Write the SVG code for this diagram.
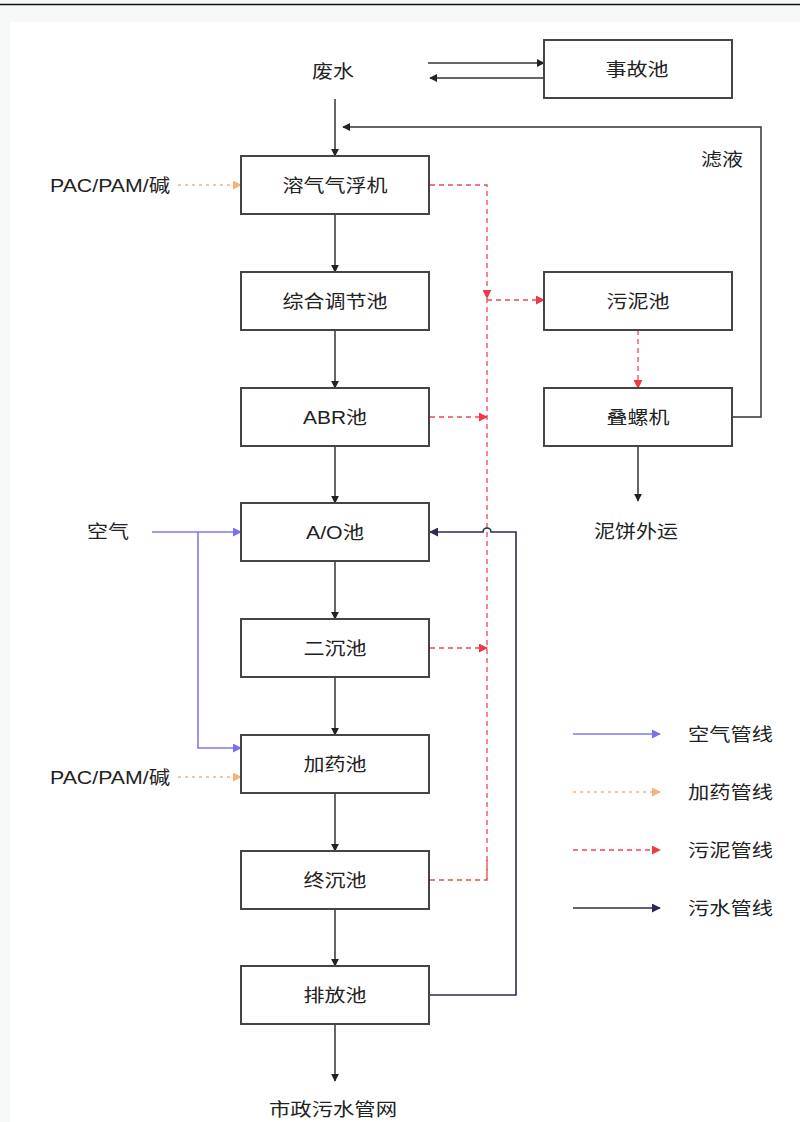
<svg xmlns="http://www.w3.org/2000/svg" width="800" height="1122" viewBox="0 0 800 1122">
<defs>
<style>
.box{fill:#fff;stroke:#444;stroke-width:2}
.t{font-family:"Liberation Sans","Noto Sans CJK SC",sans-serif;font-size:18px;fill:#222;text-anchor:middle}
.tl{font-family:"Liberation Sans","Noto Sans CJK SC",sans-serif;font-size:18px;fill:#222;text-anchor:start}
.main{fill:none;stroke:#333;stroke-width:1.5}
.air{fill:none;stroke:#8277ee;stroke-width:1.6}
.dose{fill:none;stroke:#f2b37e;stroke-width:1.6;stroke-dasharray:3 4}
.sludge{fill:none;stroke:#f0474f;stroke-width:1.3;stroke-dasharray:5 4}
.water{fill:none;stroke:#2b2b55;stroke-width:1.6}
</style>
<marker id="am" viewBox="0 0 10 10" refX="9" refY="5" markerWidth="8" markerHeight="8" markerUnits="userSpaceOnUse" orient="auto"><path d="M0,0 L10,5 L0,10 Z" fill="#222"/></marker>
<marker id="aa" viewBox="0 0 10 10" refX="9" refY="5" markerWidth="9" markerHeight="9" markerUnits="userSpaceOnUse" orient="auto"><path d="M0,0 L10,5 L0,10 Z" fill="#7a6ff0"/></marker>
<marker id="ad" viewBox="0 0 10 10" refX="9" refY="5" markerWidth="9" markerHeight="9" markerUnits="userSpaceOnUse" orient="auto"><path d="M0,0 L10,5 L0,10 Z" fill="#f2b37e"/></marker>
<marker id="as" viewBox="0 0 10 10" refX="9" refY="5" markerWidth="9" markerHeight="9" markerUnits="userSpaceOnUse" orient="auto"><path d="M0,0 L10,5 L0,10 Z" fill="#ee3a48"/></marker>
<marker id="aw" viewBox="0 0 10 10" refX="9" refY="5" markerWidth="9" markerHeight="9" markerUnits="userSpaceOnUse" orient="auto"><path d="M0,0 L10,5 L0,10 Z" fill="#2b2b55"/></marker>
</defs>
<rect x="0" y="0" width="800" height="1122" fill="#f7f9f8"/>
<rect x="10" y="22" width="790" height="1100" fill="#fff"/>
<line x1="0" y1="4.5" x2="800" y2="4.5" stroke="#111" stroke-width="1.5"/>

<g id="connectors">
<line class="main" x1="428" y1="63" x2="544" y2="63" marker-end="url(#am)"/>
<line class="main" x1="544" y1="78" x2="430" y2="78" marker-end="url(#am)"/>
<line class="main" x1="335" y1="99" x2="335" y2="156" marker-end="url(#am)"/>
<polyline class="main" points="732,417 761,417 761,127 343,127" marker-end="url(#am)"/>
<line class="main" x1="335" y1="214" x2="335" y2="272" marker-end="url(#am)"/>
<line class="main" x1="335" y1="330" x2="335" y2="388" marker-end="url(#am)"/>
<line class="main" x1="335" y1="446" x2="335" y2="503" marker-end="url(#am)"/>
<line class="main" x1="335" y1="561" x2="335" y2="619" marker-end="url(#am)"/>
<line class="main" x1="335" y1="677" x2="335" y2="735" marker-end="url(#am)"/>
<line class="main" x1="335" y1="793" x2="335" y2="851" marker-end="url(#am)"/>
<line class="main" x1="335" y1="909" x2="335" y2="966" marker-end="url(#am)"/>
<line class="main" x1="335" y1="1024" x2="335" y2="1081" marker-end="url(#am)"/>
<line class="main" x1="638" y1="446" x2="638" y2="501" marker-end="url(#am)"/>
<polyline class="sludge" points="430,185 487,185 487,298" marker-end="url(#as)"/>
<line class="sludge" x1="487" y1="298" x2="487" y2="880"/>
<line class="sludge" x1="487" y1="300" x2="544" y2="300" marker-end="url(#as)"/>
<line class="sludge" x1="430" y1="417" x2="487" y2="417" marker-end="url(#as)"/>
<line class="sludge" x1="430" y1="648" x2="487" y2="648" marker-end="url(#as)"/>
<polyline class="sludge" points="430,880 487,880 487,860"/>
<line class="sludge" x1="638" y1="330" x2="638" y2="388" marker-end="url(#as)"/>
<line class="air" x1="152" y1="532" x2="241" y2="532" marker-end="url(#aa)"/>
<polyline class="air" points="198,532 198,748 241,748" marker-end="url(#aa)"/>
<line class="dose" x1="178" y1="185" x2="241" y2="185" marker-end="url(#ad)"/>
<line class="dose" x1="178" y1="777" x2="241" y2="777" marker-end="url(#ad)"/>
<path class="water" d="M430,995 L516,995 L516,532 L491,532 A4,4 0 0 0 483,532 L430,532" marker-end="url(#aw)"/>
</g>

<g id="legend">
<line class="air" x1="573" y1="734" x2="660" y2="734" marker-end="url(#aa)"/>
<text class="tl" x="688" y="741" textLength="85" lengthAdjust="spacingAndGlyphs">空气管线</text>
<line class="dose" x1="573" y1="792" x2="660" y2="792" marker-end="url(#ad)"/>
<text class="tl" x="688" y="799" textLength="85" lengthAdjust="spacingAndGlyphs">加药管线</text>
<line class="sludge" x1="573" y1="850" x2="660" y2="850" marker-end="url(#as)"/>
<text class="tl" x="688" y="857" textLength="85" lengthAdjust="spacingAndGlyphs">污泥管线</text>
<line class="water" x1="573" y1="908" x2="660" y2="908" marker-end="url(#aw)"/>
<text class="tl" x="688" y="915" textLength="85" lengthAdjust="spacingAndGlyphs">污水管线</text>
</g>

<g id="label-wastewater"><text class="t" x="333" y="78" textLength="42" lengthAdjust="spacingAndGlyphs">废水</text></g>
<g id="label-filtrate"><text class="t" x="722" y="166" textLength="42" lengthAdjust="spacingAndGlyphs">滤液</text></g>
<g id="label-pac1"><text class="tl" x="50" y="192" textLength="120" lengthAdjust="spacingAndGlyphs">PAC/PAM/碱</text></g>
<g id="label-pac2"><text class="tl" x="50" y="784" textLength="120" lengthAdjust="spacingAndGlyphs">PAC/PAM/碱</text></g>
<g id="label-air"><text class="t" x="108" y="538" textLength="42" lengthAdjust="spacingAndGlyphs">空气</text></g>
<g id="label-cake"><text class="t" x="636" y="538" textLength="84" lengthAdjust="spacingAndGlyphs">泥饼外运</text></g>
<g id="label-sewer"><text class="t" x="333" y="1116" textLength="128" lengthAdjust="spacingAndGlyphs">市政污水管网</text></g>

<g id="accident"><rect class="box" x="544" y="40" width="188" height="58"/><text class="t" x="637" y="76" textLength="63" lengthAdjust="spacingAndGlyphs">事故池</text></g>
<g id="daf"><rect class="box" x="241" y="156" width="188" height="58"/><text class="t" x="335" y="192" textLength="105" lengthAdjust="spacingAndGlyphs">溶气气浮机</text></g>
<g id="equalization"><rect class="box" x="241" y="272" width="188" height="58"/><text class="t" x="335" y="308" textLength="105" lengthAdjust="spacingAndGlyphs">综合调节池</text></g>
<g id="abr"><rect class="box" x="241" y="388" width="188" height="58"/><text class="t" x="335" y="424" textLength="64" lengthAdjust="spacingAndGlyphs">ABR池</text></g>
<g id="ao"><rect class="box" x="241" y="503" width="188" height="58"/><text class="t" x="335" y="539" textLength="58" lengthAdjust="spacingAndGlyphs">A/O池</text></g>
<g id="secondary"><rect class="box" x="241" y="619" width="188" height="58"/><text class="t" x="335" y="655" textLength="63" lengthAdjust="spacingAndGlyphs">二沉池</text></g>
<g id="dosing"><rect class="box" x="241" y="735" width="188" height="58"/><text class="t" x="335" y="771" textLength="63" lengthAdjust="spacingAndGlyphs">加药池</text></g>
<g id="final"><rect class="box" x="241" y="851" width="188" height="58"/><text class="t" x="335" y="887" textLength="63" lengthAdjust="spacingAndGlyphs">终沉池</text></g>
<g id="discharge"><rect class="box" x="241" y="966" width="188" height="58"/><text class="t" x="335" y="1002" textLength="63" lengthAdjust="spacingAndGlyphs">排放池</text></g>
<g id="sludge-tank"><rect class="box" x="544" y="272" width="188" height="58"/><text class="t" x="638" y="308" textLength="63" lengthAdjust="spacingAndGlyphs">污泥池</text></g>
<g id="screw-press"><rect class="box" x="544" y="388" width="188" height="58"/><text class="t" x="638" y="424" textLength="63" lengthAdjust="spacingAndGlyphs">叠螺机</text></g>
</svg>
